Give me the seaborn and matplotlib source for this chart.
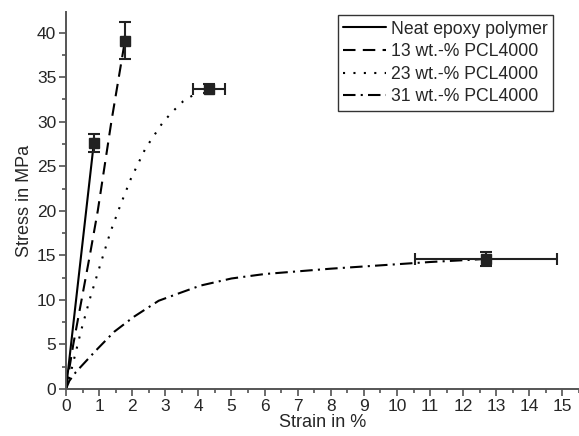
import numpy as np
import pandas as pd
import matplotlib
matplotlib.use("Agg")
import matplotlib.pyplot as plt
import seaborn as sns
from matplotlib.ticker import MultipleLocator

sns.set_style("ticks")
plt.rcParams['font.family'] = ['Liberation Sans', 'DejaVu Sans']

# Kurven (Dehnung in %, Spannung in MPa)
neat_x = [0, 0.84]
neat_y = [0, 27.6]
pcl13_x = [0, 0.22, 0.47, 0.72, 0.96, 1.37, 1.78]
pcl13_y = [0, 5, 10, 15, 20, 30, 39.1]
pcl23_x = [0, 0.14, 0.26, 0.46, 0.72, 0.99, 1.34, 1.65, 1.96, 2.4, 2.92, 3.21, 3.54, 3.89]
pcl23_y = [0, 1.8, 3.6, 6.6, 10.1, 13.4, 17.6, 20.7, 23.6, 27.0, 29.9, 31.1, 32.3, 33.1]
pcl31_x = [0, 0.1, 0.3, 0.9, 1.45, 2.05, 2.8, 3.46, 4.06, 5.0, 6.0, 7.0, 8.0, 9.0, 10.0, 11.0, 12.0, 12.7]
pcl31_y = [0, 0.9, 1.9, 4.3, 6.4, 8.1, 9.9, 10.8, 11.6, 12.4, 12.9, 13.2, 13.5, 13.75, 14.0, 14.25, 14.45, 14.6]

# Endpunkte mit Fehlerbalken
end_x = [0.84, 1.78, 4.31, 12.7]
end_y = [27.6, 39.1, 33.7, 14.6]
end_xerr = [0.0, 0.0, 0.48, 2.15]
end_yerr = [1.0, 2.05, 0.5, 0.8]

labels = ["Neat epoxy polymer", "13 wt.-% PCL4000", "23 wt.-% PCL4000", "31 wt.-% PCL4000"]
styles = ["-", (0, (6, 3.5)), (0, (1, 4)), (0, (6, 2.5, 1, 2.5))]

curves = [(neat_x, neat_y), (pcl13_x, pcl13_y), (pcl23_x, pcl23_y), (pcl31_x, pcl31_y)]
frames = []
for lab, (cx, cy) in zip(labels, curves):
    frames.append(pd.DataFrame({"strain": cx, "stress": cy, "sample": lab}))
df = pd.concat(frames, ignore_index=True)

fig = plt.figure(figsize=(5.79, 4.36), dpi=100)
ax = fig.add_axes([0.114, 0.108, 0.886, 0.864])

for lab, ls in zip(labels, styles):
    sub = df[df["sample"] == lab]
    sns.lineplot(data=sub, x="strain", y="stress", ax=ax, color="black",
                 linestyle=ls, linewidth=1.5, sort=False, estimator=None, label=lab)

ax.errorbar(end_x, end_y, xerr=end_xerr, yerr=end_yerr, fmt="s", color="#222222",
            markersize=6.5, capsize=4, elinewidth=1.5, capthick=1.5, zorder=5)

ax.set_xlim(0, 15.5)
ax.set_ylim(0, 42.3)
ax.xaxis.set_major_locator(MultipleLocator(1))
ax.xaxis.set_minor_locator(MultipleLocator(0.5))
ax.yaxis.set_major_locator(MultipleLocator(5))
ax.yaxis.set_minor_locator(MultipleLocator(2.5))
ax.tick_params(which="major", length=5, width=1.1, color="#444444", labelsize=12.5, pad=2)
ax.tick_params(which="minor", length=3, width=1.1, color="#444444")
sns.despine(ax=ax)
for s in ["left", "bottom"]:
    ax.spines[s].set_color("#555555")
    ax.spines[s].set_linewidth(1.4)

ax.set_xlabel("Strain in %", fontsize=13, labelpad=0)
ax.set_ylabel("Stress in MPa", fontsize=13, labelpad=3)

leg = ax.legend(loc="upper right", bbox_to_anchor=(0.949, 0.992), borderaxespad=0,
                fontsize=12.7, frameon=True, fancybox=False, handlelength=2.4,
                handletextpad=0.3, labelspacing=0.32, borderpad=0.3)
leg.get_frame().set_edgecolor("black")
leg.get_frame().set_linewidth(1.0)

fig.savefig("out.png", dpi=100)
